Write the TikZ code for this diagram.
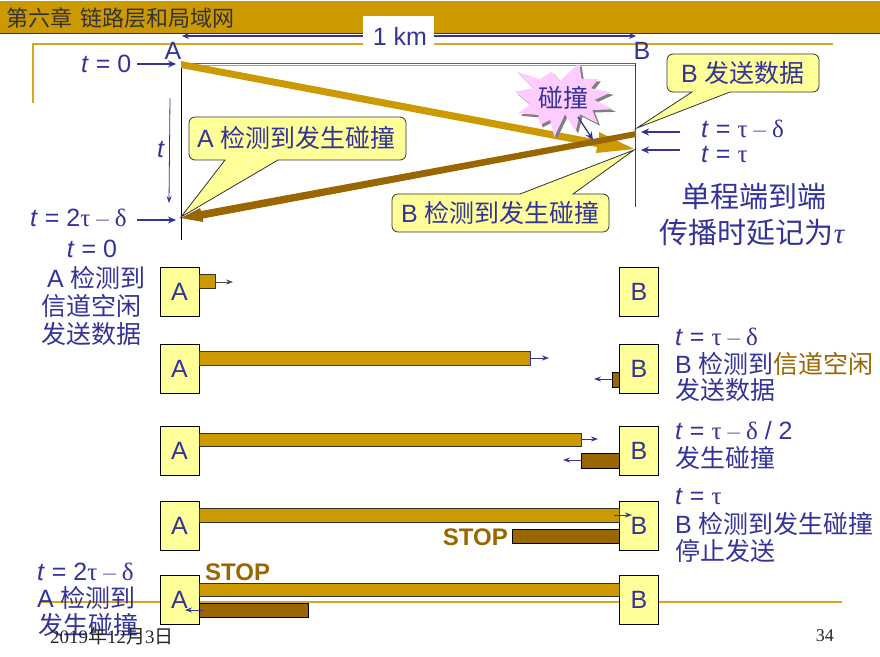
\documentclass[tikz,border=0pt]{standalone}
\usepackage{fontspec}
\usetikzlibrary{arrows.meta}
\setmainfont{Liberation Sans}
\newfontfamily\zh{Noto Sans CJK SC}
\newfontfamily\sym{Liberation Serif}
\definecolor{gold}{HTML}{CC9900}
\definecolor{brownbar}{HTML}{996600}
\definecolor{ink}{HTML}{333399}
\definecolor{note}{HTML}{FFFF99}
\definecolor{burst}{HTML}{FFCCFF}
\newcommand{\ta}{{\sym τ}}
\newcommand{\de}{{\sym δ}}
\newcommand{\mi}{\hspace{6pt}{\color{ink!65}\sym –}\hspace{6pt}}
\newcommand{\tv}{\textit{t}}
\newcommand{\fs}[1]{\fontsize{#1}{#1}\selectfont}
\newcommand{\conn}[6][link]{\coordinate (#2s) at (#3);\coordinate (#2e) at (#4);\draw[#1,#5] (#2s) -- (#2e);#6}
\newcommand{\burstpath}{(222,25) -- (230,72) -- (280,72) -- (258,100) -- (318,112) -- (268,135) -- (325,163) -- (262,165) -- (278,205) -- (225,178) -- (212,228) -- (180,178) -- (148,245) -- (135,195) -- (105,210) -- (100,180) -- (40,175) -- (75,148) -- (30,110) -- (85,100) -- (35,50) -- (105,72) -- (140,50) -- (165,78) -- cycle}
\tikzset{
 x=1pt,y=-1pt,
 lbl/.style={text=ink,inner sep=0pt,anchor=west,font=\fs{25}},
 ctr/.style={text=ink,inner sep=0pt,anchor=center,font=\fs{25}},
 station/.style={draw=black,fill=note,line width=.9pt,text=ink,minimum width=39pt,minimum height=49pt,inner sep=0pt,font=\fs{25}},
 bar/.style={draw=black!80,fill=gold,line width=.9pt},
 rbar/.style={draw=black,fill=brownbar,line width=.9pt},
 link/.style={draw=ink,line width=1.4pt,-{Stealth[length=8pt,width=7pt]}},
 thin link/.style={draw=ink,line width=.8pt,-{Stealth[length=7pt,width=5pt]}},
 callout/.style={draw=black!80,fill=note,line width=.8pt},
}
\begin{document}
\begin{tikzpicture}
\useasboundingbox (0,0) rectangle (880,656);
\fill[white] (0,0) rectangle (880,656);
% header
\fill[gold] (0,1) rectangle (880,33);
\draw[black!80,line width=.8pt] (0,33) -- (880,33);
\draw[gold!85!white,line width=1.6pt] (33,103) -- (33,44) -- (833,44);
\draw[gold!85!white,line width=1.6pt] (40,602) -- (842,602);
\node[inner sep=0pt,anchor=west,text=black!80,font=\fs{22}] (title) at (6,18) {\zh 第六章\hspace{3pt} 链路层和局域网};
% 1 km
\coordinate (kmL) at (182,36); \coordinate (kmR) at (636,36);
\draw[link,line width=1.1pt,{Stealth[length=7pt,width=6pt]}-{Stealth[length=7pt,width=6pt]}] (kmL) -- (kmR);
\fill[white] (363,16) rectangle (434,46);
\node[ctr] (km) at (400,36) {1 km};
\node[ctr] (nA) at (173,51) {A};
\node[ctr] (nB) at (642,51) {B};
% time lines
\draw[ink!80,line width=.8pt] (181,63) -- (635,63);
\draw[ink!50,line width=.8pt] (181,65.5) -- (635,65.5);
\draw[black,line width=.9pt] (181,64) -- (181,240);
\draw[ink,line width=.9pt] (635,63) -- (635,207);
% time labels
\node[lbl] (t0) at (81,64) {\tv{} = 0};
\conn{a1}{137,64}{176,64}{}{}
\node[lbl] (t2) at (30,218) {\tv{} = 2\ta\mi\de};
\conn{a2}{137,220}{176,220}{}{}
\node[ctr] (tt) at (161,150) {\tv};
\conn[thin link]{a3}{170,98}{169,203}{}{}
\node[lbl] (tr1) at (701,129) {\tv{} = \ta\mi\de};
\conn{a4}{680,132}{641,132}{}{}
\node[lbl] (tr2) at (701,155) {\tv{} = \ta};
\conn{a5}{680,150}{641,150}{}{}
\node[ctr,font=\fs{29}] (one) at (754,197) {\zh 单程端到端};
\node[ctr,font=\fs{29}] (two) at (752,233) {\zh 传播时延记为{\sym\itshape τ}};
% propagation arrows
\fill[gold] (181,61) -- (599,140) -- (599,132) -- (634,149) -- (596,153) -- (597,147) -- (181,68) -- cycle;
\fill[brownbar] (636,131) -- (636,137) -- (203,218.5) -- (203,222) -- (181,218) -- (200,208) -- (201,211) -- cycle;
% callouts
\draw[callout] (189,123) arc[start angle=180,end angle=270,radius=6] -- (400,117) arc[start angle=270,end angle=360,radius=6] -- (406,154) arc[start angle=0,end angle=90,radius=6] -- (278,160) -- (181,217) -- (225,160) -- (195,160) arc[start angle=90,end angle=180,radius=6] -- cycle;
\node[lbl] (c1) at (197,138) {A \zh 检测到发生碰撞};
\draw[callout] (667,60) arc[start angle=180,end angle=270,radius=6] -- (813,54) arc[start angle=270,end angle=360,radius=6] -- (819,86) arc[start angle=0,end angle=90,radius=6] -- (730,92) -- (637,128) -- (692,92) -- (673,92) arc[start angle=90,end angle=180,radius=6] -- cycle;
\node[lbl] (c2) at (681,73) {B \zh 发送数据};
\draw[callout] (392,200) arc[start angle=180,end angle=270,radius=6] -- (520,194) -- (634,150) -- (573,194) -- (603,194) arc[start angle=270,end angle=360,radius=6] -- (609,226) arc[start angle=0,end angle=90,radius=6] -- (398,232) arc[start angle=90,end angle=180,radius=6] -- cycle;
\node[lbl] (c3) at (401,213) {B \zh 检测到发生碰撞};
% burst
\begin{scope}[shift={(507.5,57.5)},x=.3333pt,y=-.3333pt]
\fill[black!50] \burstpath;
\end{scope}
\begin{scope}[shift={(505,55)},x=.3333pt,y=-.3333pt]
\fill[burst] \burstpath;
\end{scope}
\node[ctr] (hit) at (563,98) {\zh 碰撞};
\conn[link,line width=1.3pt]{a6}{578,117}{593,140}{}{}
% stations and bars
\foreach \n/\y in {1/291.5,2/369,3/450.5,4/525.5,5/600}{
  \node[station] (A\n) at (179.5,\y) {A};
  \node[station] (B\n) at (639,\y) {B};
}
% row 1
\draw[bar] (199,274) rectangle (215,288);
\conn[thin link,draw=black!70]{b1}{215,282}{233,282}{}{}
% row 2
\draw[fill=gold,draw=ink,line width=.9pt] (199,351) rectangle (530,365);
\conn[thin link]{b2}{531,358}{549,358}{}{}
\draw[rbar] (612,372) rectangle (619,387);
\conn[thin link]{b3}{612,379}{594,379}{}{}
% row 3
\draw[bar] (199,433) rectangle (581,446);
\conn[thin link]{b4}{581,439}{598,439}{}{}
\draw[rbar] (581,453) rectangle (619,468);
\conn[thin link]{b5}{581,460}{563,460}{}{}
% row 4
\draw[bar] (199,508) rectangle (619,522);
\draw[rbar] (512,529) rectangle (619,543);
\node[inner sep=0pt,anchor=east,text=brownbar,font=\fs{24}\bfseries] (stop1) at (508,537) {STOP};
\conn[thin link]{b6}{614,515}{632,515}{}{}
% row 5
\draw[bar] (199,583) rectangle (619,596);
\draw[rbar] (199,603) rectangle (308,617);
\node[inner sep=0pt,anchor=west,text=brownbar,font=\fs{24}\bfseries] (stop2) at (205,572) {STOP};
\conn[thin link]{b7}{203,610}{185,610}{}{}
% left texts
\node[ctr] (l1) at (92,249) {\tv{} = 0};
\node[lbl] (l2) at (47,278) {A \zh 检测到};
\node[lbl] (l3) at (41,306) {\zh 信道空闲};
\node[lbl] (l4) at (41,334) {\zh 发送数据};
% right texts
\node[lbl] (r1) at (675,337) {\tv{} = \ta\mi\de};
\node[lbl] (r2) at (675,364) {B \zh 检测到{\color{brownbar}信道空闲}};
\node[lbl] (r3) at (675,390) {\zh 发送数据};
\node[lbl] (r4) at (675,431) {\tv{} = \ta\mi\de{} / 2};
\node[lbl] (r5) at (675,458) {\zh 发生碰撞};
\node[lbl] (r6) at (675,497) {\tv{} = \ta};
\node[lbl] (r7) at (675,524) {B \zh 检测到发生碰撞};
\node[lbl] (r8) at (675,551) {\zh 停止发送};
% bottom left
\node[lbl] (d1) at (37,572) {\tv{} = 2\ta\mi\de};
\node[lbl] (d2) at (37,598) {A \zh 检测到};
\node[lbl] (d3) at (38,625) {\zh 发生碰撞};
\node[inner sep=0pt,anchor=west,text=black!85,font=\fs{19}] (date) at (50,636) {\sym 2019\zh 年\sym 12\zh 月\sym 3\zh 日};
\node[inner sep=0pt,anchor=east,text=black!85,font=\fs{18}] (pg) at (834,636) {\sym 34};
\end{tikzpicture}
\end{document}
